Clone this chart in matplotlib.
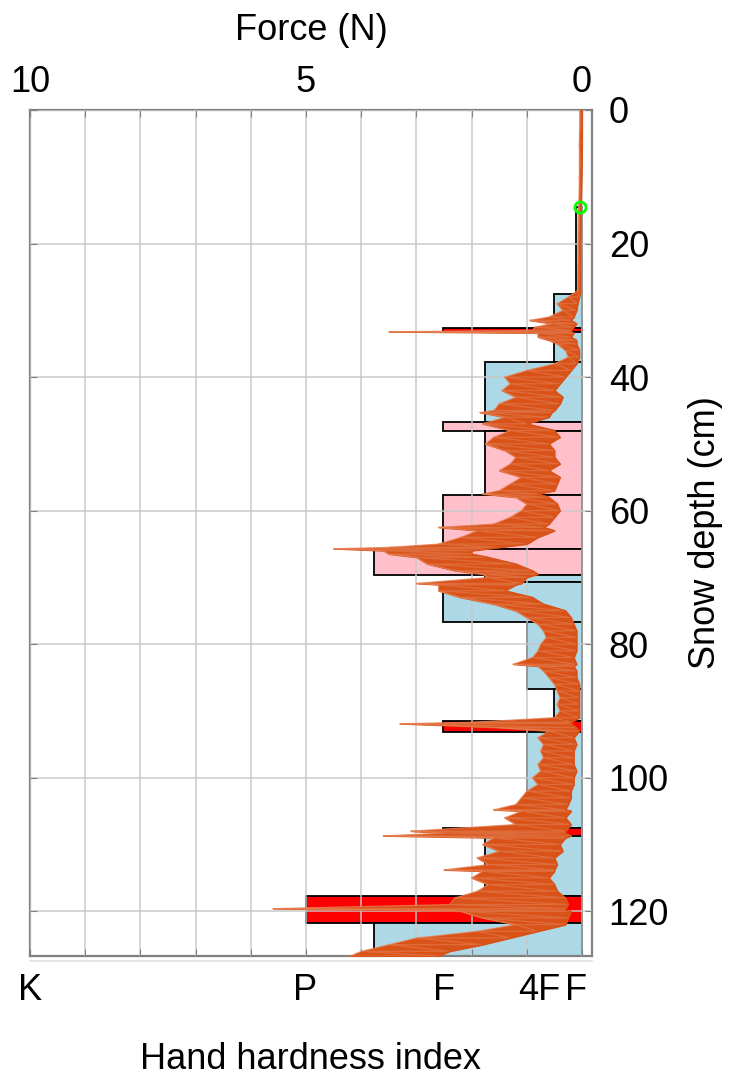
import matplotlib
matplotlib.use("Agg")
import matplotlib.pyplot as plt

plt.rcParams['font.family'] = ['Liberation Sans', 'DejaVu Sans']

# ---------------- data ----------------
# hand-hardness layers (depth in cm, force in N)
layer_top = [14.6, 27.6, 32.7, 33.3, 37.7, 46.7, 48.1, 57.6, 65.7, 69.6, 70.7,
             76.7, 86.7, 91.5, 93.2, 107.6, 108.7, 117.7, 121.7]
layer_bottom = [27.6, 32.7, 33.3, 37.7, 46.7, 48.1, 57.6, 65.7, 69.6, 70.7, 76.7,
                86.7, 91.5, 93.2, 107.6, 108.7, 117.7, 121.7, 127.5]
layer_force = [0.11, 0.5, 2.51, 0.5, 1.76, 2.51, 1.76, 2.51, 3.76, 1.76, 2.51,
               1.0, 0.5, 2.51, 1.0, 2.51, 1.76, 5.0, 3.76]
layer_color = ['lightblue', 'lightblue', 'red', 'lightblue', 'lightblue', 'pink',
               'pink', 'pink', 'pink', 'lightblue', 'lightblue', 'lightblue',
               'lightblue', 'red', 'lightblue', 'red', 'lightblue', 'red', 'lightblue']

# SMP penetration force envelope (depth cm, min force N, max force N)
smp_depth = [0, 5, 10, 14.6, 20, 27, 28, 29, 30, 31, 31.5, 32, 32.5, 33, 33.2, 33.4,
             34, 34.5, 35, 36, 37, 38, 39, 40, 41, 42, 43, 44, 45, 45.3, 46, 47, 48,
             49, 50, 51, 52, 53, 54, 55, 56, 57, 57.5, 58, 59, 60, 61, 62, 62.5, 63,
             64, 65, 65.5, 65.7, 66, 66.5, 67, 68, 69, 69.5, 70, 70.9, 71.1, 72, 73,
             74, 75, 76, 77, 78, 79, 80, 81, 82, 83, 83.3, 84, 85, 86, 87, 88, 89,
             90, 91, 91.7, 91.9, 92.5, 93, 94, 95, 96, 97, 98, 99, 100, 101, 102,
             103, 104, 104.8, 105, 106, 107, 108.0, 108.3, 108.7, 109, 110, 111, 112,
             113, 113.8, 114, 115, 116, 117, 118, 119, 119.6, 119.9, 120, 121, 122,
             123, 124, 125, 126, 126.7]
smp_lo = [0.00, 0.00, 0.01, 0.02, 0.03, 0.03, 0.05, 0.08, 0.10, 0.15, 0.20, 0.10,
          0.15, 0.20, 0.20, 0.15, 0.20, 0.10, 0.10, 0.05, 0.05, 0.10, 0.20, 0.30,
          0.40, 0.50, 0.35, 0.40, 0.50, 0.55, 0.60, 1.00, 0.50, 0.40, 0.60, 0.50,
          0.50, 0.40, 0.60, 0.40, 0.45, 0.50, 0.80, 0.60, 0.45, 0.40, 0.50, 0.60,
          0.70, 0.50, 0.80, 1.00, 1.50, 1.70, 2.00, 2.00, 1.70, 1.20, 0.90, 0.80,
          1.00, 1.10, 1.20, 1.40, 0.90, 0.70, 0.30, 0.20, 0.15, 0.10, 0.10, 0.10,
          0.10, 0.15, 0.10, 0.15, 0.10, 0.10, 0.05, 0.05, 0.05, 0.05, 0.05, 0.05,
          0.20, 0.20, 0.10, 0.05, 0.15, 0.10, 0.15, 0.15, 0.15, 0.10, 0.15, 0.15,
          0.20, 0.20, 0.25, 0.30, 0.20, 0.30, 0.20, 0.30, 0.30, 0.20, 0.30, 0.40,
          0.35, 0.50, 0.45, 0.50, 0.50, 0.60, 0.50, 0.45, 0.30, 0.25, 0.30, 0.30,
          0.20, 0.25, 0.30, 0.80, 1.30, 1.80, 2.40, 2.60]
smp_hi = [0.04, 0.05, 0.05, 0.06, 0.07, 0.08, 0.25, 0.45, 0.35, 0.60, 0.95, 0.55,
          0.85, 0.90, 3.50, 0.80, 0.80, 0.60, 0.45, 0.30, 0.25, 0.50, 1.00, 1.40,
          1.30, 1.45, 1.20, 1.50, 1.60, 1.85, 1.40, 1.80, 1.30, 1.60, 1.75, 1.40,
          1.20, 1.30, 1.50, 1.10, 1.30, 1.50, 1.80, 1.20, 1.00, 1.10, 1.30, 1.60,
          2.60, 1.90, 2.20, 2.60, 3.50, 4.50, 3.60, 3.50, 3.00, 2.80, 2.30, 1.80,
          1.70, 3.00, 2.60, 2.60, 2.20, 1.60, 1.20, 1.00, 0.80, 0.70, 0.65, 0.75,
          0.80, 0.90, 1.25, 0.80, 0.70, 0.60, 0.50, 0.45, 0.40, 0.45, 0.40, 0.50,
          2.00, 3.30, 1.50, 0.60, 0.80, 0.70, 0.75, 0.70, 0.80, 0.75, 0.90, 0.80,
          1.00, 1.10, 1.20, 1.60, 1.10, 1.40, 1.20, 3.10, 2.50, 3.60, 1.60, 1.80,
          1.50, 1.90, 1.70, 2.50, 1.80, 2.00, 1.70, 1.90, 2.30, 2.40, 5.60, 2.40,
          2.20, 1.80, 1.20, 1.90, 3.00, 3.50, 4.00, 4.20]

surface_depth = [14.6]
surface_force = [0.03]

force_ticks = list(range(0, 11))
force_ticklabels = ['0', '', '', '', '', '5', '', '', '', '', '10']
depth_ticks = [0, 20, 40, 60, 80, 100, 120]
hardness_pos = [10.0, 5.02, 2.5, 0.78, 0.11]
hardness_labels = ['K', 'P', 'F', '4F', 'F']

# ---------------- figure ----------------
W, H = 731, 1076
fig = plt.figure(figsize=(W / 100, H / 100), dpi=100)
ax = fig.add_axes([30 / W, 1 - 956 / H, 562 / W, 846 / H])

FS = 26
ax.barh(layer_top, layer_force,
        height=[b - t for t, b in zip(layer_top, layer_bottom)],
        left=0, align='edge', color=layer_color, edgecolor='black',
        linewidth=1.3, zorder=2)

orange = '#D95319'
ax.fill_betweenx(smp_depth, smp_lo, smp_hi, color=orange, linewidth=0.8,
                 zorder=3)
# horizontal noise strokes: each recorded depth drawn from its min to its max
strand_x = []
strand_y = []
for d, lo, hi in zip(smp_depth, smp_lo, smp_hi):
    strand_x += [lo, hi]
    strand_y += [d, d]
ax.plot(strand_x, strand_y, color='#E07040', lw=0.9, alpha=0.85, zorder=3)
ax.plot(smp_hi, smp_depth, color='#E8845A', lw=0.8, alpha=0.8, zorder=3)
ax.plot(smp_lo, smp_depth, color=orange, lw=1.0, zorder=3)
ax.plot(surface_force, surface_depth, 'o', ms=8, mfc='none', mec='#00FF00',
        mew=2, zorder=4)

ax.set_xlim(10, -0.18)
ax.set_ylim(126.7, 0)

ax.set_xticks(force_ticks)
ax.set_xticklabels(force_ticklabels)
ax.xaxis.set_ticks_position('both')
ax.xaxis.set_label_position('top')
ax.tick_params(axis='x', which='both', direction='in', length=5,
               color='#808080', labeltop=True, labelbottom=False,
               labelsize=FS, pad=7)
ax.set_xlabel('Force (N)', fontsize=FS, labelpad=18)

ax.set_yticks(depth_ticks)
ax.yaxis.set_ticks_position('both')
ax.yaxis.set_label_position('right')
ax.tick_params(axis='y', which='both', direction='in', length=5,
               color='#808080', labelleft=False, labelright=True,
               labelsize=FS, pad=12)
ax.set_ylabel('Snow depth (cm)', fontsize=FS, labelpad=14)

ax.grid(True, color='#c8c8c8', lw=1.4, alpha=0.75)
ax.set_axisbelow(False)
for s in ax.spines.values():
    s.set_color('#808080')
    s.set_linewidth(1.6)

# secondary bottom axis with hand hardness index labels
sec = ax.secondary_xaxis(-5 / 846)
sec.set_xticks(hardness_pos)
sec.set_xticklabels(hardness_labels)
sec.tick_params(axis='x', length=0, labelsize=FS, pad=9)
sec.spines['bottom'].set_color('#e0e0e0')
sec.spines['bottom'].set_linewidth(1.2)
sec.set_xlabel('Hand hardness index', fontsize=FS, labelpad=24)

fig.savefig('out.png', dpi=100)
